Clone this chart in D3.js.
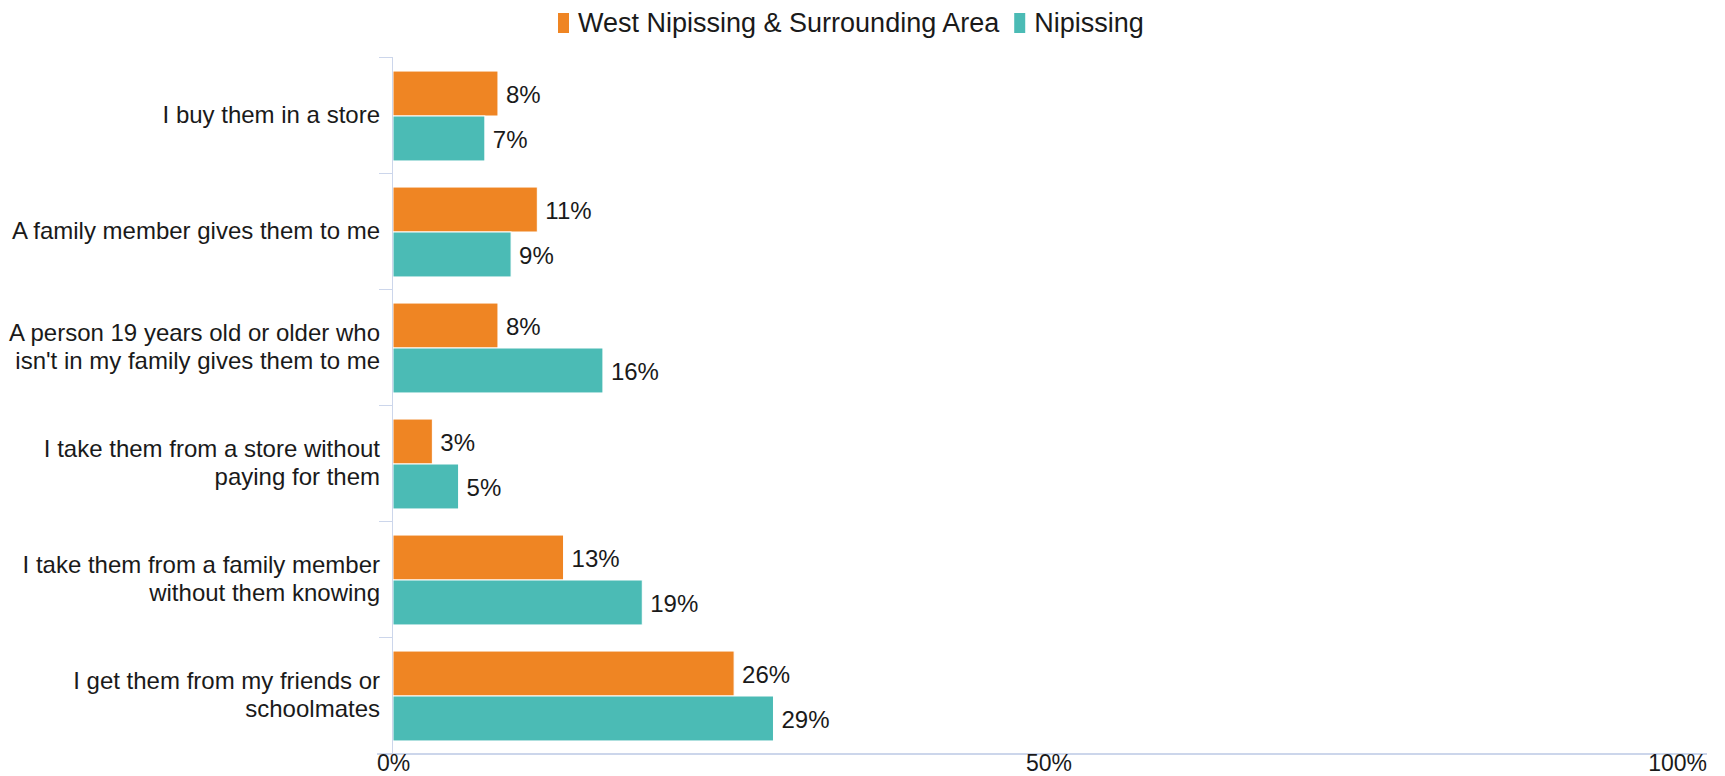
<!DOCTYPE html>
<meta charset="utf-8">
<style>

body {
  margin: 0;
  background: #fff;
}

text {
  font-family: "Liberation Sans", Arial, sans-serif;
  fill: #1a1a1a;
}

.axis-line {
  stroke: #ccd6eb;
  fill: none;
}

</style>

<svg width="1725" height="776"></svg>

<script src="https://d3js.org/d3.v7.min.js"></script>
<script>

var categories = [
  "I buy them in a store",
  "A family member gives them to me",
  "A person 19 years old or older who\nisn't in my family gives them to me",
  "I take them from a store without\npaying for them",
  "I take them from a family member\nwithout them knowing",
  "I get them from my friends or\nschoolmates"
];

var seriesNames = ["West Nipissing & Surrounding Area", "Nipissing"];
var westValues = [8, 11, 8, 3, 13, 26];
var nipissingValues = [7, 9, 16, 5, 19, 29];
var colors = ["#ef8523", "#4bbbb5"];
var xTicks = [0, 50, 100];

var svg = d3.select("svg"),
    width = +svg.attr("width"),
    height = +svg.attr("height");

var plot = {left: 393, right: 1705, top: 57, bottom: 753};

var x = d3.scaleLinear()
    .domain([0, 100])
    .range([plot.left, plot.right]);

var y = d3.scaleBand()
    .domain(categories)
    .range([plot.top, plot.bottom]);

var sub = d3.scaleBand()
    .domain([0, 1])
    .range([0, y.bandwidth()])
    .paddingOuter(0.29);

var rows = categories.map(function(c, i) {
  return {cat: c, values: [westValues[i], nipissingValues[i]]};
});

// barras
var groups = svg.append("g")
  .selectAll("g")
  .data(rows)
  .enter()
  .append("g")
    .attr("transform", d => "translate(0," + (y(d.cat) + 1) + ")");

groups.selectAll("rect")
  .data(d => d.values.map((v, k) => ({v: v, k: k})))
  .enter()
  .append("rect")
    .attr("x", x(0))
    .attr("y", d => sub(d.k))
    .attr("width", d => x(d.v) - x(0))
    .attr("height", sub.bandwidth())
    .attr("fill", d => colors[d.k])
    .attr("stroke", "#fff")
    .attr("stroke-width", 1);

groups.selectAll("text.label")
  .data(d => d.values.map((v, k) => ({v: v, k: k})))
  .enter()
  .append("text")
    .attr("class", "label")
    .attr("x", d => x(d.v) + 8)
    .attr("y", d => sub(d.k) + sub.bandwidth() / 2)
    .attr("dy", "0.4em")
    .style("font-size", "24px")
    .text(d => d.v + "%");

// eixo y
svg.append("line")
    .attr("class", "axis-line")
    .attr("x1", plot.left - 0.5).attr("x2", plot.left - 0.5)
    .attr("y1", plot.top).attr("y2", plot.bottom);

var edges = categories.map(c => y(c)).concat([plot.bottom]);
svg.append("g")
  .selectAll("line")
  .data(edges)
  .enter()
  .append("line")
    .attr("class", "axis-line")
    .attr("x1", plot.left - 14).attr("x2", plot.left)
    .attr("y1", d => Math.round(d) + 0.5).attr("y2", d => Math.round(d) + 0.5);

var yLabels = svg.append("g")
  .selectAll("text")
  .data(categories)
  .enter()
  .append("text")
    .attr("text-anchor", "end")
    .style("font-size", "24px")
    .attr("transform", d => "translate(" + (plot.left - 13) + "," + (y(d) + y.bandwidth() / 2) + ")");

yLabels.each(function(d) {
  var lines = d.split("\n");
  var t = d3.select(this);
  lines.forEach(function(l, i) {
    t.append("tspan")
        .attr("x", 0)
        .attr("y", (i - (lines.length - 1) / 2) * 28)
        .attr("dy", "0.35em")
        .text(l);
  });
});

// eixo x
svg.append("line")
    .attr("class", "axis-line")
    .attr("stroke-width", 2)
    .attr("x1", 377).attr("x2", 1707)
    .attr("y1", plot.bottom + 1).attr("y2", plot.bottom + 1);

svg.append("g")
  .selectAll("text")
  .data(xTicks)
  .enter()
  .append("text")
    .attr("x", (d, i) => i === 0 ? 377 : i === xTicks.length - 1 ? 1707 : x(d))
    .attr("y", 771)
    .attr("text-anchor", (d, i) => i === 0 ? "start" : i === xTicks.length - 1 ? "end" : "middle")
    .style("font-size", "23px")
    .text(d => d + "%");

// legenda
var legend = svg.append("g");
var lx = 558;
seriesNames.forEach(function(name, i) {
  legend.append("rect")
      .attr("x", lx).attr("y", 13)
      .attr("width", 11).attr("height", 20)
      .attr("fill", colors[i]);
  var t = legend.append("text")
      .attr("x", lx + 20).attr("y", 32)
      .style("font-size", "27px")
      .text(name);
  lx += 20 + t.node().getComputedTextLength() + 15;
});

</script>
